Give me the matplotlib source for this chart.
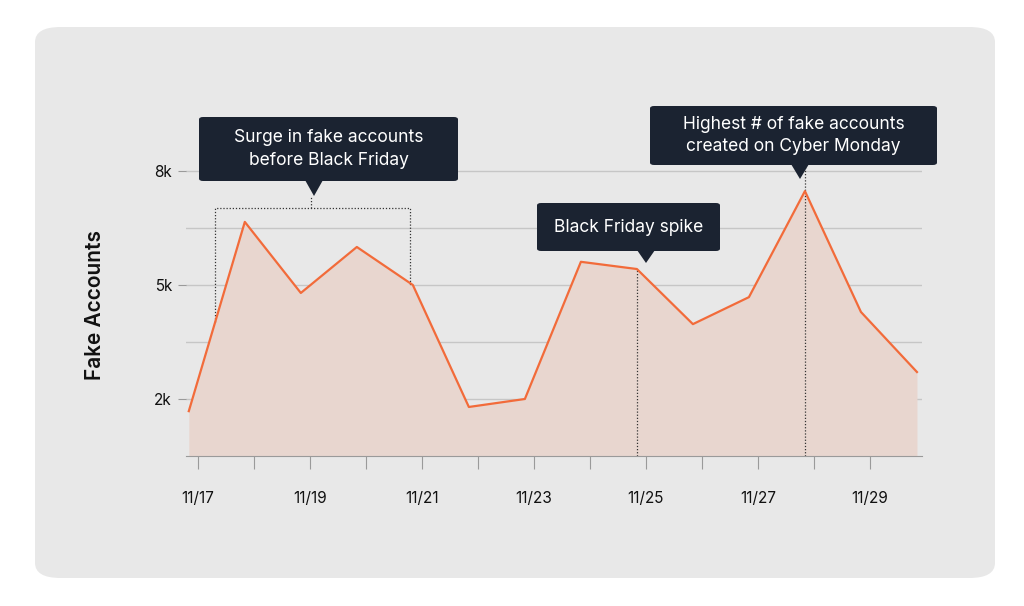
import matplotlib
matplotlib.use("Agg")
import matplotlib.pyplot as plt
from matplotlib.patches import FancyBboxPatch, Polygon

days = [16.84, 17.84, 18.84, 19.84, 20.84, 21.84, 22.84, 23.84, 24.84, 25.84, 26.84, 27.84, 28.84, 29.84]
fake_k = [1.68, 6.66, 4.79, 6.0, 5.0, 1.79, 2.0, 5.61, 5.42, 3.97, 4.68, 7.47, 4.29, 2.71]
tick_days = list(range(17, 30))
tick_labels = ["11/17", "", "11/19", "", "11/21", "", "11/23", "", "11/25", "", "11/27", "", "11/29"]
ytick_vals = [2, 5, 8]
ytick_labels = ["2k", "5k", "8k"]
grid_vals = [2, 3.5, 5, 6.5, 8]

FONT = "Inter"
W, H = 1024, 606
fig = plt.figure(figsize=(10.24, 6.06), dpi=100)
fig.patch.set_facecolor("white")

def fx(x): return x / W
def fy(y): return 1 - y / H

bg = FancyBboxPatch((fx(35), fy(578)), fx(960), 551 / H,
                    boxstyle="round,pad=0,rounding_size=0.025",
                    transform=fig.transFigure, facecolor="#e8e8e8", edgecolor="none", zorder=-5)
fig.patches.append(bg)

ax = fig.add_axes([fx(186), fy(456), fx(922 - 186), (456 - 163) / H])
ax.set_zorder(1)
ax.set_facecolor("none")
ax.set_xlim(16.79, 29.93)
ax.set_ylim(0.5, 8.21)
for v in grid_vals:
    ax.axhline(v, color="#c6c6c6", lw=1, zorder=1)
ax.fill_between(days, fake_k, 0.5, color="#e8d6cf", zorder=2, lw=0)
ax.plot(days, fake_k, color="#f26b3a", lw=1.6, zorder=4)

for s in ["top", "right", "left"]:
    ax.spines[s].set_visible(False)
ax.spines["bottom"].set_color("#9a9a9a")
ax.set_xticks(tick_days)
ax.set_xticklabels(tick_labels, fontfamily=FONT, fontsize=11, color="#111")
ax.tick_params(axis="x", length=9, color="#9a9a9a", pad=16)
ax.set_yticks(ytick_vals)
ax.set_yticklabels(ytick_labels, fontfamily=FONT, fontsize=11, color="#111")
ax.tick_params(axis="y", length=6, color="#9a9a9a", pad=4)
fig.text(fx(95), fy(305), "Fake Accounts", rotation=90, ha="center", va="center",
         fontfamily=FONT, fontsize=15, fontweight="semibold", color="#111")

# dotted guides
ax.vlines(days[8], 0.5, fake_k[8], colors="#333", linestyles=(0, (1, 1.5)), lw=0.9, zorder=3)
ax.vlines(days[11], 0.5, 8.1, colors="#333", linestyles=(0, (1, 1.5)), lw=0.9, zorder=3)
x0 = 16.79 + (215 - 186) / 56.0
x1 = 16.79 + (410 - 186) / 56.0
ytop = 0.5 + (456 - 208) / 38.0
ax.plot([x0, x0, x1, x1], [0.5 + (456 - 322) / 38.0, ytop, ytop, fake_k[4]],
        color="#333", ls=(0, (1, 1.5)), lw=0.9, zorder=3)
ax.plot([(x0 + x1) / 2 - 0.02, (x0 + x1) / 2 - 0.02], [ytop, ytop + 0.3],
        color="#333", ls=(0, (1, 1.5)), lw=0.9, zorder=3)

def callout(x0p, y0p, x1p, y1p, tipx, tipy, text):
    box = FancyBboxPatch((fx(x0p), fy(y1p)), fx(x1p - x0p), (y1p - y0p) / H,
                         boxstyle="round,pad=0,rounding_size=0.004",
                         transform=fig.transFigure, facecolor="#1b2331", edgecolor="none", zorder=10)
    fig.patches.append(box)
    tri = Polygon([(fx(tipx - 9), fy(y1p - 1)), (fx(tipx + 9), fy(y1p - 1)), (fx(tipx), fy(tipy))],
                  closed=True, transform=fig.transFigure, facecolor="#1b2331", edgecolor="none", zorder=10)
    fig.patches.append(tri)
    fig.text(fx((x0p + x1p) / 2), fy((y0p + y1p) / 2), text, ha="center", va="center",
             color="white", fontfamily=FONT, fontsize=12.5, linespacing=1.45, zorder=11)

callout(199, 117, 458, 181, 314, 196, "Surge in fake accounts\nbefore Black Friday")
callout(537, 203, 720, 251, 646, 263, "Black Friday spike")
callout(650, 106, 937, 165, 800, 179, "Highest # of fake accounts\ncreated on Cyber Monday")

fig.savefig("out.png", dpi=100)
